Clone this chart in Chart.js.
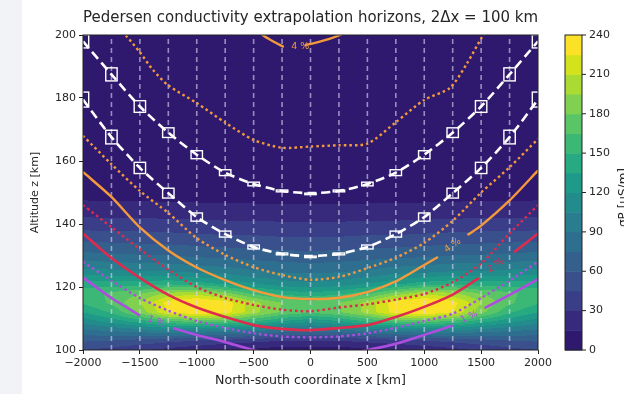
<!DOCTYPE html>
<html><head><meta charset="utf-8">
<script src="https://cdn.jsdelivr.net/npm/chart.js@4.4.1/dist/chart.umd.min.js"></script>
<style>
html,body{margin:0;padding:0;background:#f1f3f6;overflow:hidden;}
#panel{position:absolute;left:22px;top:0;width:602px;height:394px;background:#fff;}
#wrap{position:absolute;left:0;top:0;width:624px;height:394px;}
</style></head><body>
<div id="panel"></div>
<div id="wrap"><canvas id="c" width="624" height="394"></canvas></div>
<script>
// ---------------- data ----------------
const xs = [-2000,-1750,-1500,-1250,-1000,-750,-500,-250,0,250,500,750,1000,1250,1500,1750,2000];
const zRows = [100,103,106,109,112,115,118,121,125,130,135,140,145,150,200];
// Pedersen conductivity [uS/m], one row per zRows entry, one value per xs entry
const sigma = [
 [45,40,32,25,18,12,10,8,8,8,10,12,18,25,32,40,45],
 [62,60,55,50,45,40,35,30,30,30,35,40,45,50,55,60,62],
 [85,90,95,100,100,95,90,82,78,82,90,95,100,100,95,90,85],
 [110,125,140,160,168,165,150,132,122,132,150,165,168,160,140,125,110],
 [135,152,185,225,240,232,200,178,168,178,200,232,240,225,185,152,135],
 [152,168,195,232,244,235,200,180,172,180,200,235,244,232,195,168,152],
 [158,168,178,198,205,185,160,145,138,145,160,185,205,198,178,168,158],
 [142,142,142,147,142,132,120,112,108,112,120,132,142,147,142,142,142],
 [110,108,105,105,100,98,92,88,86,88,92,98,100,105,105,108,110],
 [80,78,76,75,72,70,68,66,65,66,68,70,72,75,76,78,80],
 [57,56,55,54,52,50,50,48,48,48,50,50,52,54,55,56,57],
 [37,36,36,35,34,33,33,32,32,32,33,33,34,35,36,36,37],
 [21,20,20,20,19,19,18,18,18,18,18,19,19,20,20,20,21],
 [9,9,9,8,8,8,8,8,8,8,8,8,8,8,9,9,9],
 [2,2,2,2,2,2,2,2,2,2,2,2,2,2,2,2,2]
];
const levels = [0,15,30,45,60,75,90,105,120,135,150,165,180,195,210,225,240];
const cbTicks = [0,30,60,90,120,150,180,210,240];
const xTicks = [-2000,-1500,-1000,-500,0,500,1000,1500,2000];
const yTicks = [100,120,140,160,180,200];
const halfDx = 50; // km, 2Δx = 100 km

// extrapolation horizons (white, with boxes)
const whiteUpperZ = [198,187.5,177.3,169,162,156.3,152.7,150.5,149.8,150.5,152.7,156.3,162,169,177.3,187.5,198];
const whiteLowerZ = [179.5,167.6,157.8,149.8,142.2,136.8,132.7,130.5,129.8,130.5,132.7,136.8,142.2,149.8,157.8,167.6,179.5];

// error contours
const orangeSolidX = [-2000,-1750,-1500,-1250,-1000,-750,-500,-250,0,250,500,750,1000,1120,1240,1380,1500,1750,2000];
const orangeSolidZ = [156.5,148.6,138.9,131.6,126.2,122.2,119,116.8,116.2,116.6,118.4,121.8,127,129.5,null,136.5,139.5,147.5,157];
const orangeTopX = [-470,-420,-330,-235,-130,-50,50,150,260,320];
const orangeTopZ = [202,200,198,196.2,null,196.8,197.6,198.6,200,201.5];
const orangeDotTopX = [-1700,-1613,-1500,-1385,-1250,-1000,-750,-500,-250,0,250,500,750,1000,1226,1376,1508,1560];
const orangeDotTopZ = [202,199.4,194.5,188.9,184,178.4,172.2,166.7,164.2,164.6,165,165.5,172.3,179.4,183.2,191,199.4,202];
const orangeDotLowZ = [168,159,150.5,143.5,135.5,130.2,126.3,123.8,122.3,123.2,126,129.3,134,141,150,158,167];
const crimsonSolidX = [-2000,-1750,-1500,-1250,-1000,-750,-500,-250,0,250,500,750,1000,1250,1480,1630,1790,2000];
const crimsonSolidZ = [137,129.2,122.9,117.5,113.5,110.5,107.9,106.7,106.3,107,107.9,110.5,113.7,117.6,122.8,null,131,137];
const crimsonDotZ = [146,139,132,125.5,120,116.5,114.3,112.8,112.3,113.5,114.5,116,117.8,121.5,127.5,137,146];
const violetSolidX = [-2000,-1750,-1500,-1350,-1209,-1000,-750,-500,-250,0,250,500,750,1000,1250,1400,1530,1750,2000];
const violetSolidZ = [123,116.5,111,null,107,104.8,102.5,100,98.5,98,98.5,100,102,104.8,107.8,null,113.3,117.5,122.5];
const violetDotZ = [128,122,116.5,112.5,109.2,107,105.3,104.3,104,104.3,105.3,107,109.2,111.5,116.5,122,128];

const vlineX = [-1750,-1500,-1250,-1000,-750,-500,-250,0,250,500,750,1000,1250,1500,1750];

// ---------------- styles ----------------
const ORANGE = '#f59a3c', CRIMSON = '#de2b4e', VIOLET = '#ae4ee0';
const bandColors = ['#2f196e','#372a7c','#3a3d88','#3a508c','#34608d','#2e6e8e','#297d8e','#228c8c',
  '#1f9a89','#27a982','#3bb776','#5ac566','#80d150','#a9db33','#d4e21d','#fbe226'];
const lineLabels = [
  {t:'4 %', x:-90, z:196.3, c:ORANGE, a:0},
  {t:'4 %', x:1250, z:133.2, c:ORANGE, a:-35},
  {t:'2 %', x:1630, z:126.8, c:CRIMSON, a:-35},
  {t:'1 %', x:-1355, z:109, c:VIOLET, a:20},
  {t:'1 %', x:1395, z:110.5, c:VIOLET, a:-25}
];
const FONT = 'DejaVu Sans';
const TXT = '#262626';

// ---------------- helpers ----------------
function pts(X, Z){ return X.map((x,i)=>({x:x, y:Z[i]})); }
function hexRgb(h){ return [parseInt(h.substr(1,2),16),parseInt(h.substr(3,2),16),parseInt(h.substr(5,2),16)]; }
function locate(arr, v){
  if (v <= arr[0]) return [0, 0];
  for (let i=0;i<arr.length-1;i++){ if (v <= arr[i+1]) return [i, (v-arr[i])/(arr[i+1]-arr[i])]; }
  return [arr.length-2, 1];
}
function sample(x, z){
  const [i, tx] = locate(xs, x), [j, tz] = locate(zRows, z);
  const a = sigma[j][i], b = sigma[j][i+1], c = sigma[j+1][i], d = sigma[j+1][i+1];
  return (a*(1-tx)+b*tx)*(1-tz) + (c*(1-tx)+d*tx)*tz;
}
function band(v){
  let k = 0;
  for (let i=0;i<levels.length-1;i++){ if (v >= levels[i]) k = i; }
  return k;
}

const vlinePts = [];
vlineX.forEach(v => { vlinePts.push({x:v,y:100},{x:v,y:200},{x:v,y:null}); });

const heatPlugin = {
  id:'heat',
  beforeDatasetsDraw(chart){
    const {ctx, chartArea:a, scales:{x, y}} = chart;
    const w = Math.round(a.right-a.left), h = Math.round(a.bottom-a.top);
    const off = document.createElement('canvas'); off.width = w; off.height = h;
    const o = off.getContext('2d');
    const img = o.createImageData(w, h);
    const rgb = bandColors.map(hexRgb);
    for (let py=0; py<h; py++){
      const z = y.getValueForPixel(a.top+py+0.5);
      for (let px=0; px<w; px++){
        const xv = x.getValueForPixel(a.left+px+0.5);
        const col = rgb[band(sample(xv, z))];
        const k = (py*w+px)*4;
        img.data[k]=col[0]; img.data[k+1]=col[1]; img.data[k+2]=col[2]; img.data[k+3]=255;
      }
    }
    o.putImageData(img, 0, 0);
    ctx.save();
    ctx.beginPath(); ctx.rect(a.left, a.top, w, h); ctx.clip();
    ctx.filter = 'blur(0.7px)';
    ctx.drawImage(off, a.left, a.top);
    ctx.restore();
  },
  afterDatasetsDraw(chart){
    const {ctx, chartArea:a, scales:{x, y}} = chart;
    ctx.save();
    ctx.beginPath(); ctx.rect(a.left, a.top, a.right-a.left, a.bottom-a.top); ctx.clip();
    ctx.strokeStyle = '#ffffff'; ctx.lineWidth = 1.4;
    [whiteUpperZ, whiteLowerZ].forEach(Z => {
      for (let i=0;i<xs.length;i++){
        const i0 = Math.max(0,i-1), i1 = Math.min(xs.length-1,i+1);
        const slope = (Z[i1]-Z[i0])/(xs[i1]-xs[i0]);
        const hh = Math.abs(slope)*halfDx;
        const l = x.getPixelForValue(xs[i]-halfDx), r = x.getPixelForValue(xs[i]+halfDx);
        const t = y.getPixelForValue(Z[i]+hh), b = y.getPixelForValue(Z[i]-hh);
        ctx.strokeRect(l, t, r-l, Math.max(b-t, 1.5));
      }
    });
    ctx.font = '9.5px "'+FONT+'"';
    ctx.textAlign = 'center'; ctx.textBaseline = 'middle';
    lineLabels.forEach(L => {
      ctx.save();
      ctx.translate(x.getPixelForValue(L.x), y.getPixelForValue(L.z));
      ctx.rotate(L.a*Math.PI/180);
      ctx.fillStyle = L.c; ctx.fillText(L.t, 0, 0);
      ctx.restore();
    });
    ctx.restore();
    ctx.save();
    ctx.strokeStyle = '#222'; ctx.lineWidth = 1;
    ctx.strokeRect(a.left, a.top, a.right-a.left, a.bottom-a.top);
    ctx.restore();
  },
  afterDraw(chart){
    const {ctx, chartArea:a} = chart;
    const x0 = a.right+27, x1 = a.right+44;
    const vp = v => a.bottom - (v-levels[0])/(levels[levels.length-1]-levels[0])*(a.bottom-a.top);
    ctx.save();
    for (let i=0;i<levels.length-1;i++){
      const t = vp(levels[i+1]), b = vp(levels[i]);
      ctx.fillStyle = bandColors[i];
      ctx.fillRect(x0, t, x1-x0, b-t+0.5);
    }
    ctx.strokeStyle = '#222'; ctx.lineWidth = 1;
    ctx.strokeRect(x0, a.top, x1-x0, a.bottom-a.top);
    ctx.font = '11px "'+FONT+'"'; ctx.fillStyle = TXT;
    ctx.textAlign = 'left'; ctx.textBaseline = 'middle';
    cbTicks.forEach(v => {
      const p = vp(v);
      ctx.beginPath(); ctx.moveTo(x1, p); ctx.lineTo(x1+4, p); ctx.stroke();
      ctx.fillText(String(v), x1+7, p);
    });
    ctx.translate(624, (a.top+a.bottom)/2 + 5);
    ctx.rotate(-Math.PI/2);
    ctx.font = '12px "'+FONT+'"';
    ctx.textAlign = 'center'; ctx.textBaseline = 'middle';
    ctx.fillText('σP [μS/m]', 0, 0);
    ctx.restore();
  }
};

const lineBase = {showLine:true, pointRadius:0, spanGaps:false, tension:0.25, fill:false};
const dotted = [2.5, 3];

new Chart(document.getElementById('c'), {
  type:'scatter',
  data:{ datasets:[
    Object.assign({}, lineBase, {label:'grid', data:vlinePts, borderColor:'rgba(218,214,238,0.62)', borderWidth:1.6, borderDash:[5,4], tension:0, order:20}),
    Object.assign({}, lineBase, {label:'o_top', data:pts(orangeTopX, orangeTopZ), borderColor:ORANGE, borderWidth:2.4, order:8}),
    Object.assign({}, lineBase, {label:'o_s', data:pts(orangeSolidX, orangeSolidZ), borderColor:ORANGE, borderWidth:2.4, order:8}),
    Object.assign({}, lineBase, {label:'o_dt', data:pts(orangeDotTopX, orangeDotTopZ), borderColor:ORANGE, borderWidth:2.4, borderDash:dotted, order:8}),
    Object.assign({}, lineBase, {label:'o_dl', data:pts(xs, orangeDotLowZ), borderColor:ORANGE, borderWidth:2.4, borderDash:dotted, order:8}),
    Object.assign({}, lineBase, {label:'c_s', data:pts(crimsonSolidX, crimsonSolidZ), borderColor:CRIMSON, borderWidth:2.6, order:7}),
    Object.assign({}, lineBase, {label:'c_d', data:pts(xs, crimsonDotZ), borderColor:CRIMSON, borderWidth:2.4, borderDash:dotted, order:7}),
    Object.assign({}, lineBase, {label:'v_s', data:pts(violetSolidX, violetSolidZ), borderColor:VIOLET, borderWidth:2.6, order:6}),
    Object.assign({}, lineBase, {label:'v_d', data:pts(xs, violetDotZ), borderColor:VIOLET, borderWidth:2.4, borderDash:dotted, order:6}),
    Object.assign({}, lineBase, {label:'w_u', data:pts(xs, whiteUpperZ), borderColor:'#ffffff', borderWidth:2.6, borderDash:[9,5], order:1}),
    Object.assign({}, lineBase, {label:'w_l', data:pts(xs, whiteLowerZ), borderColor:'#ffffff', borderWidth:2.6, borderDash:[9,5], order:1})
  ]},
  options:{
    responsive:false, animation:false, devicePixelRatio:1,
    layout:{padding:{left:22, right:86, top:0, bottom:0}},
    plugins:{
      legend:{display:false}, tooltip:{enabled:false},
      title:{display:true, fullSize:false, text:'Pedersen conductivity extrapolation horizons, 2Δx = 100 km',
        color:TXT, font:{family:FONT, size:15, weight:'normal'}, padding:{top:9.5, bottom:7.5}}
    },
    scales:{
      x:{type:'linear', min:-2000, max:2000,
        afterBuildTicks: s => { s.ticks = xTicks.map(v => ({value:v})); },
        afterFit: s => { s.height = 44; },
        ticks:{color:TXT, font:{family:FONT, size:11}, padding:3, maxRotation:0,
          callback: v => String(v).replace('-', '\u2212')},
        grid:{display:true, drawOnChartArea:false, drawTicks:true, tickLength:4, color:'#222'},
        border:{display:false},
        title:{display:true, text:'North-south coordinate x [km]', color:TXT, font:{family:FONT, size:12.6}, padding:{top:0, bottom:6}}
      },
      y:{type:'linear', min:100, max:200,
        afterBuildTicks: s => { s.ticks = yTicks.map(v => ({value:v})); },
        afterFit: s => { s.width = 61; },
        ticks:{color:TXT, font:{family:FONT, size:11}, padding:3},
        grid:{display:true, drawOnChartArea:false, drawTicks:true, tickLength:4, color:'#222'},
        border:{display:false},
        title:{display:true, text:'Altitude z [km]', color:TXT, font:{family:FONT, size:11}, padding:{top:7, bottom:0}}
      }
    }
  },
  plugins:[heatPlugin]
});
</script>
</body></html>
